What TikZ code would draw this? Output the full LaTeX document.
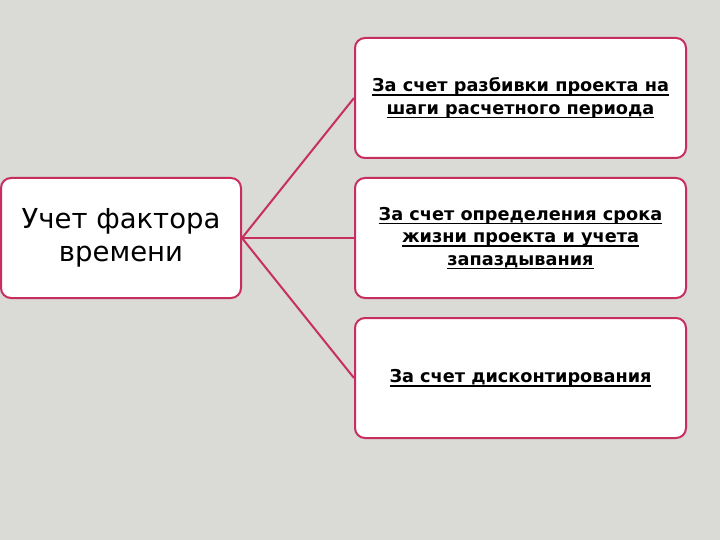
\documentclass[tikz,border=0pt]{standalone}
\usepackage{fontspec}
\setmainfont{DejaVu Sans}
\newcommand\myul[1]{\leavevmode\setbox0=\hbox{#1}\rlap{\vrule height -2.5pt depth 4pt width \wd0}\box0}
\definecolor{bg}{RGB}{218,218,215}
\definecolor{edgec}{RGB}{200,45,95}
\begin{document}
\begin{tikzpicture}[x=1pt,y=-1pt,
  box/.style={draw=edgec, line width=2pt, fill=white, rounded corners=10pt, minimum height=120pt, inner sep=0pt, align=center, execute at begin node={\vspace*{6pt}}},
  leftbox/.style={box, minimum width=240pt, font=\fontsize{27.5}{33}\selectfont},
  rightbox/.style={box, minimum width=331pt, font=\bfseries\fontsize{17.7}{22.5}\selectfont},
  conn/.style={draw=edgec, line width=2pt}]
\fill[bg] (0,0) rectangle (720,540);
\useasboundingbox (0,0) rectangle (720,540);
\node[leftbox] (L) at (121,238) {Учет фактора\\времени};
\node[rightbox] (A) at (520.5,98) {\myul{За счет разбивки проекта на}\\\myul{шаги расчетного периода}};
\node[rightbox] (B) at (520.5,238) {\myul{За счет определения срока}\\\myul{жизни проекта и учета}\\\myul{запаздывания}};
\node[rightbox] (C) at (520.5,378) {\myul{За счет дисконтирования}};
\draw[conn] (L.east) -- (A.west);
\draw[conn] (L.east) -- (B.west);
\draw[conn] (L.east) -- (C.west);
\end{tikzpicture}
\end{document}
